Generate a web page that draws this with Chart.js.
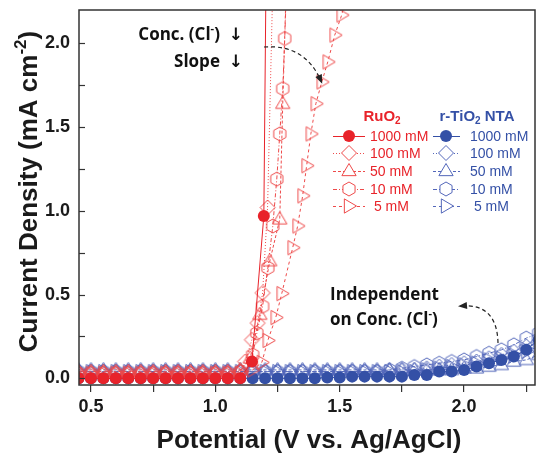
<!DOCTYPE html>
<html>
<head>
<meta charset="utf-8">
<script src="https://cdn.jsdelivr.net/npm/chart.js@4.4.0/dist/chart.umd.min.js"></script>
<style>
  html, body { margin: 0; padding: 0; background: #fff; }
  canvas { display: block; }
</style>
</head>
<body>
<canvas id="chart" width="536" height="456"></canvas>
<script>
// ---- data ----
// RuO2: flat part before onset (V vs Ag/AgCl)
const potentialFlat = [0.45, 0.50, 0.55, 0.60, 0.65, 0.70, 0.75, 0.80, 0.85, 0.90, 0.95, 1.00, 1.05, 1.10];
const ru1000Flat = [0.00, 0.00, 0.00, 0.00, 0.00, 0.00, 0.00, 0.00, 0.00, 0.00, 0.00, 0.00, 0.00, 0.00];
const ru100Flat  = [0.03, 0.03, 0.03, 0.03, 0.03, 0.03, 0.03, 0.03, 0.03, 0.03, 0.03, 0.03, 0.03, 0.04];
const ru50Flat   = [0.04, 0.04, 0.04, 0.04, 0.04, 0.04, 0.04, 0.04, 0.04, 0.04, 0.04, 0.04, 0.04, 0.05];
const ru10Flat   = [0.03, 0.03, 0.03, 0.03, 0.03, 0.03, 0.03, 0.03, 0.03, 0.03, 0.03, 0.03, 0.03, 0.04];
const ru5Flat    = [0.03, 0.03, 0.03, 0.03, 0.03, 0.03, 0.03, 0.03, 0.03, 0.03, 0.03, 0.03, 0.03, 0.03];

// RuO2: onset parts
const ru1000OnsetV = [1.147, 1.195, 1.205];
const ru1000OnsetJ = [0.10, 0.97, 2.60];
const ru100OnsetV = [1.12, 1.147, 1.17, 1.19, 1.21, 1.235];
const ru100OnsetJ = [0.10, 0.23, 0.33, 0.51, 1.02, 2.60];
const ru50OnsetV = [1.14, 1.179, 1.219, 1.259, 1.271, 1.29];
const ru50OnsetJ = [0.12, 0.38, 0.70, 0.95, 1.64, 2.60];
const ru10OnsetV = [1.15, 1.167, 1.19, 1.211, 1.231, 1.247, 1.259, 1.271, 1.279, 1.29];
const ru10OnsetJ = [0.14, 0.27, 0.43, 0.66, 0.91, 1.19, 1.46, 1.73, 2.03, 2.50];
const ru5OnsetV = [1.15, 1.187, 1.211, 1.243, 1.267, 1.311, 1.331, 1.351, 1.367, 1.384, 1.404, 1.428, 1.452, 1.48, 1.508, 1.53];
const ru5OnsetJ = [0.05, 0.095, 0.226, 0.363, 0.506, 0.78, 0.91, 1.09, 1.27, 1.46, 1.64, 1.77, 1.89, 2.05, 2.17, 2.30];

// r-TiO2 NTA
const potentialGrid = [0.45, 0.50, 0.55, 0.60, 0.65, 0.70, 0.75, 0.80, 0.85, 0.90, 0.95, 1.00, 1.05, 1.10, 1.15, 1.20, 1.25, 1.30, 1.35, 1.40,
  1.45, 1.50, 1.55, 1.60, 1.65, 1.70, 1.75, 1.80, 1.85, 1.90, 1.95, 2.00, 2.05, 2.10, 2.15, 2.20, 2.25, 2.30];
const ti1000 = [0.00, 0.00, 0.00, 0.00, 0.00, 0.00, 0.00, 0.00, 0.00, 0.00, 0.00, 0.00, 0.00, 0.00, 0.00, 0.00, 0.00, 0.00, 0.00, 0.00,
  0.005, 0.005, 0.01, 0.01, 0.01, 0.01, 0.01, 0.02, 0.02, 0.04, 0.04, 0.05, 0.07, 0.09, 0.11, 0.13, 0.17, 0.23];
const ti100 = [0.04, 0.04, 0.04, 0.04, 0.04, 0.04, 0.04, 0.04, 0.04, 0.04, 0.04, 0.04, 0.04, 0.04, 0.04, 0.04, 0.04, 0.04, 0.04, 0.04,
  0.04, 0.04, 0.04, 0.04, 0.04, 0.04, 0.05, 0.05, 0.06, 0.07, 0.08, 0.09, 0.10, 0.12, 0.14, 0.16, 0.19, 0.22];
const ti50 = [0.05, 0.05, 0.05, 0.05, 0.05, 0.05, 0.05, 0.05, 0.05, 0.05, 0.05, 0.05, 0.05, 0.05, 0.05, 0.05, 0.05, 0.05, 0.05, 0.05,
  0.05, 0.05, 0.05, 0.05, 0.05, 0.05, 0.05, 0.05, 0.05, 0.05, 0.05, 0.06, 0.06, 0.07, 0.08, 0.10, 0.11, 0.14];
const ti10 = [0.04, 0.04, 0.04, 0.04, 0.04, 0.04, 0.04, 0.04, 0.04, 0.04, 0.04, 0.04, 0.04, 0.04, 0.04, 0.04, 0.04, 0.04, 0.04, 0.04,
  0.04, 0.04, 0.04, 0.04, 0.04, 0.05, 0.06, 0.07, 0.08, 0.09, 0.10, 0.11, 0.13, 0.15, 0.17, 0.20, 0.24, 0.27];
const ti5 = [0.04, 0.04, 0.04, 0.04, 0.04, 0.04, 0.04, 0.04, 0.04, 0.04, 0.04, 0.04, 0.04, 0.04, 0.04, 0.04, 0.04, 0.04, 0.04, 0.04,
  0.04, 0.04, 0.04, 0.04, 0.04, 0.04, 0.04, 0.04, 0.05, 0.06, 0.07, 0.08, 0.09, 0.11, 0.12, 0.14, 0.16, 0.19];

// ticks
const xTickValues = [0.5, 0.75, 1.0, 1.25, 1.5, 1.75, 2.0, 2.25];
const xTickLabels = ["0.5", "", "1.0", "", "1.5", "", "2.0", ""];
const yTickValues = [0.0, 0.25, 0.5, 0.75, 1.0, 1.25, 1.5, 1.75, 2.0];
const yTickLabels = ["0.0", "", "0.5", "", "1.0", "", "1.5", "", "2.0"];

const legendLabels = ["1000 mM", "100 mM", "50 mM", "10 mM", " 5 mM"];

// ---- styles ----
const RED = "#e8232a";
const RED_OPEN = "#ee4a4a";
const BLUE = "#3450a6";
const BLUE_OPEN = "#5367ba";
const FONT = "'Liberation Sans', Arial, sans-serif";
const ANNO_FONT = "'Open Sans', 'DejaVu Sans', sans-serif";

Chart.defaults.font.family = FONT;

//outline marker shapes
function markerPath(ctx, shape, x, y, r) {
  ctx.beginPath();
  if (shape === "diamond") {
    ctx.moveTo(x, y - r); ctx.lineTo(x + r, y); ctx.lineTo(x, y + r); ctx.lineTo(x - r, y);
  } else if (shape === "tri") {
    ctx.moveTo(x, y - r); ctx.lineTo(x + r * 0.95, y + r * 0.62); ctx.lineTo(x - r * 0.95, y + r * 0.62);
  } else if (shape === "hex") {
    for (let k = 0; k < 6; k++) {
      let a = -Math.PI / 2 + k * Math.PI / 3;
      let px = x + r * Math.cos(a), py = y + r * Math.sin(a);
      if (k === 0) ctx.moveTo(px, py); else ctx.lineTo(px, py);
    }
  } else if (shape === "rtri") {
    ctx.moveTo(x + r, y); ctx.lineTo(x - r * 0.62, y - r * 0.95); ctx.lineTo(x - r * 0.62, y + r * 0.95);
  } else if (shape === "circle") {
    ctx.arc(x, y, r, 0, Math.PI * 2);
  }
  ctx.closePath();
}

function markerImage(shape, color, r) {
  let c = document.createElement("canvas");
  let s = Math.ceil(r * 2 + 4);
  c.width = s; c.height = s;
  let ctx = c.getContext("2d");
  ctx.strokeStyle = color;
  ctx.lineWidth = 1;
  markerPath(ctx, shape, s / 2, s / 2, r);
  ctx.stroke();
  return c;
}

const markerSize = { diamond: 7.5, tri: 7.5, hex: 7, rtri: 7.5 };
const shapes = ["circle", "diamond", "tri", "hex", "rtri"];
const dashes = [[], [1, 2], [3, 2], [4, 2, 1, 2], [3, 3]];

function mappedObjectFromArray(xArray, yArray) {
  return yArray.map(function (value, index) {
    return { x: xArray[index], y: value };
  });
}

function makeSet(label, xs, ys, k, color, openColor, order) {
  let ds = {
    label: label,
    data: mappedObjectFromArray(xs, ys),
    borderColor: k === 0 ? color : openColor,
    borderWidth: 1,
    borderDash: dashes[k],
    order: order,
    pointHoverRadius: 0
  };
  if (k === 0) {
    ds.pointStyle = "circle";
    ds.pointRadius = 6;
    ds.pointBackgroundColor = color;
    ds.pointBorderColor = color;
    ds.pointBorderWidth = 0;
  } else {
    ds.pointStyle = markerImage(shapes[k], openColor, markerSize[shapes[k]]);
    ds.pointRadius = 6;
  }
  return ds;
}

const datasets = [
  makeSet("RuO2 1000 mM", potentialFlat.concat(ru1000OnsetV), ru1000Flat.concat(ru1000OnsetJ), 0, RED, RED_OPEN, 0),
  makeSet("RuO2 100 mM", potentialFlat.concat(ru100OnsetV), ru100Flat.concat(ru100OnsetJ), 1, RED, RED_OPEN, 1),
  makeSet("RuO2 50 mM", potentialFlat.concat(ru50OnsetV), ru50Flat.concat(ru50OnsetJ), 2, RED, RED_OPEN, 2),
  makeSet("RuO2 10 mM", potentialFlat.concat(ru10OnsetV), ru10Flat.concat(ru10OnsetJ), 3, RED, RED_OPEN, 3),
  makeSet("RuO2 5 mM", potentialFlat.concat(ru5OnsetV), ru5Flat.concat(ru5OnsetJ), 4, RED, RED_OPEN, 4),
  makeSet("r-TiO2 NTA 1000 mM", potentialGrid, ti1000, 0, BLUE, BLUE_OPEN, 5),
  makeSet("r-TiO2 NTA 100 mM", potentialGrid, ti100, 1, BLUE, BLUE_OPEN, 6),
  makeSet("r-TiO2 NTA 50 mM", potentialGrid, ti50, 2, BLUE, BLUE_OPEN, 7),
  makeSet("r-TiO2 NTA 10 mM", potentialGrid, ti10, 3, BLUE, BLUE_OPEN, 8),
  makeSet("r-TiO2 NTA 5 mM", potentialGrid, ti5, 4, BLUE, BLUE_OPEN, 9)
];

//text with super/subscripts: parts = [[text, 0|1|-1]]
function drawRich(ctx, parts, x, y, size, weight, family, align) {
  let widths = parts.map(function (p) {
    ctx.font = weight + " " + (p[1] ? Math.round(size * 0.65) : size) + "px " + family;
    return ctx.measureText(p[0]).width;
  });
  let total = widths.reduce((a, b) => a + b, 0);
  let cx = align === "center" ? x - total / 2 : align === "right" ? x - total : x;
  ctx.textAlign = "left";
  ctx.textBaseline = "middle";
  parts.forEach(function (p, i) {
    ctx.font = weight + " " + (p[1] ? Math.round(size * 0.65) : size) + "px " + family;
    let dy = p[1] === 1 ? -size * 0.35 : p[1] === -1 ? size * 0.3 : 0;
    ctx.fillText(p[0], cx, y + dy);
    cx += widths[i];
  });
}

function dashedArrow(ctx, x0, y0, cx, cy, x1, y1) {
  ctx.save();
  ctx.strokeStyle = "#222";
  ctx.fillStyle = "#222";
  ctx.lineWidth = 1.2;
  ctx.setLineDash([4, 3]);
  ctx.beginPath();
  ctx.moveTo(x0, y0);
  ctx.quadraticCurveTo(cx, cy, x1, y1);
  ctx.stroke();
  ctx.setLineDash([]);
  let a = Math.atan2(y1 - cy, x1 - cx);
  ctx.beginPath();
  ctx.moveTo(x1 + 3 * Math.cos(a), y1 + 3 * Math.sin(a));
  ctx.lineTo(x1 - 6 * Math.cos(a) + 3.5 * Math.sin(a), y1 - 6 * Math.sin(a) - 3.5 * Math.cos(a));
  ctx.lineTo(x1 - 6 * Math.cos(a) - 3.5 * Math.sin(a), y1 - 6 * Math.sin(a) + 3.5 * Math.cos(a));
  ctx.closePath();
  ctx.fill();
  ctx.restore();
}

const decorPlugin = {
  id: "decor",
  afterDraw(chart) {
    const ctx = chart.ctx;
    const area = chart.chartArea;
    const ys = chart.scales.y;
    ctx.save();

    //frame
    ctx.strokeStyle = "#333";
    ctx.lineWidth = 1.5;
    ctx.strokeRect(area.left, area.top, area.right - area.left, area.bottom - area.top);

    //inward y ticks
    ctx.lineWidth = 1.2;
    yTickValues.forEach(function (v) {
      let py = Math.round(ys.getPixelForValue(v)) + 0.5;
      ctx.beginPath();
      ctx.moveTo(area.left, py);
      ctx.lineTo(area.left + 6, py);
      ctx.stroke();
    });

    //axis titles
    ctx.fillStyle = "#1a1a1a";
    drawRich(ctx, [["Potential (V vs. Ag/AgCl)", 0]], (area.left + area.right) / 2 + 2, 441, 26, "bold", FONT, "center");
    ctx.save();
    ctx.translate(30, (area.top + area.bottom) / 2 - 6);
    ctx.rotate(-Math.PI / 2);
    drawRich(ctx, [["Current Density (mA cm", 0], ["-2", 1], [")", 0]], 0, 0, 26, "bold", FONT, "center");
    ctx.restore();

    //annotations
    ctx.fillStyle = "#111";
    drawRich(ctx, [["Conc. (Cl", 0], ["-", 1], [")  \u2193", 0]], 243, 35, 17, "bold", ANNO_FONT, "right");
    drawRich(ctx, [["Slope  \u2193", 0]], 243, 62, 17, "bold", ANNO_FONT, "right");
    drawRich(ctx, [["Independent", 0]], 330, 295, 17, "bold", ANNO_FONT, "left");
    drawRich(ctx, [["on Conc. (Cl", 0], ["-", 1], [")", 0]], 330, 320, 17, "bold", ANNO_FONT, "left");
    dashedArrow(ctx, 264, 47, 305, 44, 321, 81);
    dashedArrow(ctx, 498, 343, 497, 303, 461, 306);

    //legend
    ctx.fillStyle = RED;
    drawRich(ctx, [["RuO", 0], ["2", -1]], 382, 117, 15, "bold", FONT, "center");
    ctx.fillStyle = BLUE;
    drawRich(ctx, [["r-TiO", 0], ["2", -1], [" NTA", 0]], 477, 117, 15, "bold", FONT, "center");
    const rowsY = [136, 153, 171, 189, 206];
    const groups = [
      { color: RED, open: RED_OPEN, x0: 333, x1: 365, mx: 349, tx: 370 },
      { color: BLUE, open: BLUE_OPEN, x0: 433, x1: 460, mx: 446, tx: 470 }
    ];
    groups.forEach(function (g) {
      rowsY.forEach(function (y, k) {
        ctx.save();
        ctx.strokeStyle = k === 0 ? g.color : g.open;
        ctx.lineWidth = 1;
        ctx.setLineDash(dashes[k]);
        ctx.beginPath();
        ctx.moveTo(g.x0, y + 0.5);
        ctx.lineTo(g.x1, y + 0.5);
        ctx.stroke();
        ctx.setLineDash([]);
        if (k === 0) {
          ctx.fillStyle = g.color;
          markerPath(ctx, "circle", g.mx, y, 6);
          ctx.fill();
        } else {
          ctx.fillStyle = "#fff";
          markerPath(ctx, shapes[k], g.mx, y, markerSize[shapes[k]]);
          ctx.fill();
          ctx.stroke();
        }
        ctx.restore();
        ctx.fillStyle = g.color;
        drawRich(ctx, [[legendLabels[k], 0]], g.tx, y + 1, 14, "normal", FONT, "left");
      });
    });

    ctx.restore();
  }
};

let chart = new Chart(document.getElementById("chart").getContext("2d"), {
  type: "line",
  data: { datasets: datasets },
  options: {
    responsive: false,
    animation: false,
    layout: { autoPadding: false, padding: { top: 10, right: 1, left: 0, bottom: 0 } },
    plugins: { legend: { display: false }, tooltip: { enabled: false } },
    scales: {
      x: {
        type: "linear",
        min: 0.452,
        max: 2.285,
        afterBuildTicks: function (s) { s.ticks = xTickValues.map(v => ({ value: v })); },
        afterFit: function (s) { s.height = 71; s.paddingLeft = 0; s.paddingRight = 0; },
        grid: { drawOnChartArea: false, drawTicks: true, tickLength: 7, color: "#333", lineWidth: 1.2 },
        border: { display: false },
        ticks: {
          autoSkip: false,
          maxRotation: 0,
          padding: 4,
          color: "#1a1a1a",
          font: { size: 18, weight: "bold" },
          callback: function (v, i) { return xTickLabels[i]; }
        }
      },
      y: {
        min: -0.04,
        max: 2.2,
        afterBuildTicks: function (s) { s.ticks = yTickValues.map(v => ({ value: v })); },
        afterFit: function (s) { s.width = 79; s.paddingTop = 0; s.paddingBottom = 0; },
        grid: { drawOnChartArea: false, drawTicks: false },
        border: { display: false },
        ticks: {
          padding: 9,
          color: "#1a1a1a",
          font: { size: 18, weight: "bold" },
          callback: function (v, i) { return yTickLabels[i]; }
        }
      }
    }
  },
  plugins: [decorPlugin]
});
</script>
</body>
</html>
